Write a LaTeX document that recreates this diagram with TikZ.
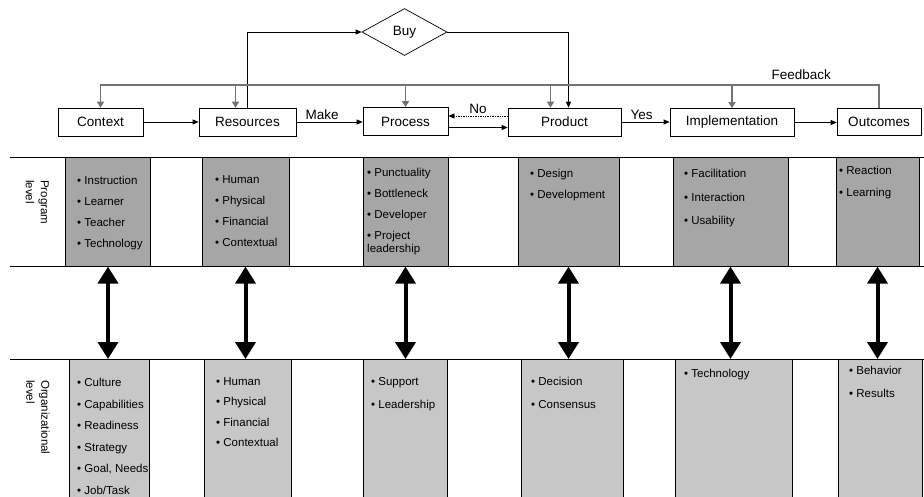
\documentclass[tikz,border=0pt]{standalone}
\usepackage{fontspec}
\setmainfont{Liberation Sans}
\usetikzlibrary{arrows.meta,positioning,calc,shapes.geometric}

\tikzset{
  stage/.style={draw,fill=white,line width=0.7pt,minimum height=28pt,inner sep=0pt,font=\fontsize{13.5}{16}\selectfont},
  lbl/.style={font=\fontsize{13.5}{16}\selectfont,inner sep=1pt},
  flow/.style={line width=0.7pt,-{Triangle[length=6pt,width=5pt]}},
  fbline/.style={draw=black!55,line width=1.8pt},
  fbdrop/.style={fbline,-{Triangle[length=6pt,width=7pt]}},
  sepline/.style={line width=0.7pt},
  progcol/.style={draw,fill=black!35,line width=0.6pt,minimum height=109pt,inner sep=0pt,anchor=north},
  orgcol/.style={draw,fill=black!22,line width=0.6pt,minimum height=141pt,inner sep=0pt,anchor=north},
  itemlist/.style={anchor=north west,inner sep=0pt,align=left,font=\fontsize{11.5}{21}\selectfont},
  link/.style={line width=4pt,{Triangle[length=17pt,width=20pt]}-{Triangle[length=17pt,width=20pt]}},
  levellabel/.style={rotate=-90,anchor=north west,inner sep=0pt,align=left,font=\fontsize{11.5}{15}\selectfont}
}

\begin{document}
\begin{tikzpicture}[x=1pt,y=-1pt]
	\useasboundingbox (0,0) rectangle (924,496);

	% columns of the two levels
	\foreach \i/\x/\w in {1/108/85,2/245.5/87,3/405.5/85,4/568.5/101,5/730.5/115,6/877.5/83}
	{
		\node[progcol,minimum width=\w pt] (p\i) at (\x,157) {};
	}
	\foreach \i/\x/\w in {1/109/80,2/247.5/87,3/405/84,4/572/102,5/733.5/117,6/880/84}
	{
		\node[orgcol,minimum width=\w pt] (o\i) at (\x,359) {};
	}

	\draw[sepline] (10,157) -- (924,157);
	\draw[sepline] (10,266) -- (924,266);
	\draw[sepline] (10,359) -- (924,359);

	\node[levellabel] (plev) at (49,180) {Program\\level};
	\node[levellabel] (olev) at (50,380) {Organizational\\level};

	% program level items
	\node[itemlist] (pl1) at (77,176) {\textbullet\ Instruction\\\textbullet\ Learner\\\textbullet\ Teacher\\\textbullet\ Technology};
	\node[itemlist] (pl2) at (215,175) {\textbullet\ Human\\\textbullet\ Physical\\\textbullet\ Financial\\\textbullet\ Contextual};
	\node[itemlist] (pl3) at (367,168) {\textbullet\ Punctuality\\\textbullet\ Bottleneck\\\textbullet\ Developer\\\textbullet\ Project\\[-8pt]leadership};
	\node[itemlist] (pl4) at (530,169) {\textbullet\ Design\\\textbullet\ Development};
	\node[itemlist,font=\fontsize{11.5}{23.5}\selectfont] (pl5) at (684,169) {\textbullet\ Facilitation\\\textbullet\ Interaction\\\textbullet\ Usability};
	\node[itemlist,font=\fontsize{11.5}{22}\selectfont] (pl6) at (839,166) {\textbullet\ Reaction\\\textbullet\ Learning};

	% organizational level items
	\node[itemlist,font=\fontsize{11.5}{21.5}\selectfont] (ol1) at (77,378) {\textbullet\ Culture\\\textbullet\ Capabilities\\\textbullet\ Readiness\\\textbullet\ Strategy\\\textbullet\ Goal, Needs\\\textbullet\ Job/Task};
	\node[itemlist,font=\fontsize{11.5}{20.5}\selectfont] (ol2) at (216,377) {\textbullet\ Human\\\textbullet\ Physical\\\textbullet\ Financial\\\textbullet\ Contextual};
	\node[itemlist,font=\fontsize{11.5}{23}\selectfont] (ol3) at (371,377) {\textbullet\ Support\\\textbullet\ Leadership};
	\node[itemlist,font=\fontsize{11.5}{22.5}\selectfont] (ol4) at (531,377) {\textbullet\ Decision\\\textbullet\ Consensus};
	\node[itemlist] (ol5) at (684,369) {\textbullet\ Technology};
	\node[itemlist,font=\fontsize{11.5}{23}\selectfont] (ol6) at (849,366) {\textbullet\ Behavior\\\textbullet\ Results};

	\foreach \i in {1,...,6}
	{
		\draw[link] (p\i.south) -- (p\i.south |- o\i.north);
	}

	% stages
	\node[stage,minimum width=85pt] (ctx) at (100.5,122) {Context};
	\node[stage,minimum width=97pt] (res) at (247.5,122) {Resources};
	\node[stage,minimum width=85pt] (proc) at (405.5,121.5) {Process};
	\node[stage,minimum width=113pt] (prod) at (564.5,122) {Product};
	\node[stage,minimum width=124pt] (impl) at (732,122.5) {Implementation};
	\node[stage,minimum width=84pt,minimum height=27pt] (out) at (879,121.5) {Outcomes};
	\node[diamond,draw,line width=0.7pt,minimum width=85pt,minimum height=47pt,inner sep=0pt,font=\fontsize{13.5}{16}\selectfont] (buy) at (404.5,32) {Buy};

	\draw[flow] (ctx) -- (res);
	\draw[flow] (res.east) -- (res.east -| proc.west) node[lbl,pos=0.39,above=1pt] {Make};
	\draw[flow,densely dotted] ([yshift=6pt]prod.west) -- ([yshift=6pt]prod.west -| proc.east) node[lbl,midway,above=1pt] {No};
	\draw[flow] ([yshift=-6pt]proc.east) -- ([yshift=-6pt]proc.east -| prod.west);
	\draw[flow] (prod.east) -- (prod.east -| impl.west) node[lbl,pos=0.42,above=1pt] {Yes};
	\draw[flow] (impl.east) -- (impl.east -| out.west);

	\draw[flow] (res.north) |- (buy.west);
	\draw[flow] (buy.east) -| ([xshift=4pt]prod.north);

	% feedback loop
	\coordinate (fb) at (0,85);
	\draw[fbdrop] (out.north) |- node[lbl,pos=0.55,above=3pt] {Feedback} (ctx.north |- fb) -- (ctx.north);
	\foreach \n/\dx in {res/-12,proc/0,prod/-14,impl/0}
	{
		\draw[fbdrop] ([xshift=\dx pt]\n.north |- fb) -- ([xshift=\dx pt]\n.north);
	}
\end{tikzpicture}
\end{document}
